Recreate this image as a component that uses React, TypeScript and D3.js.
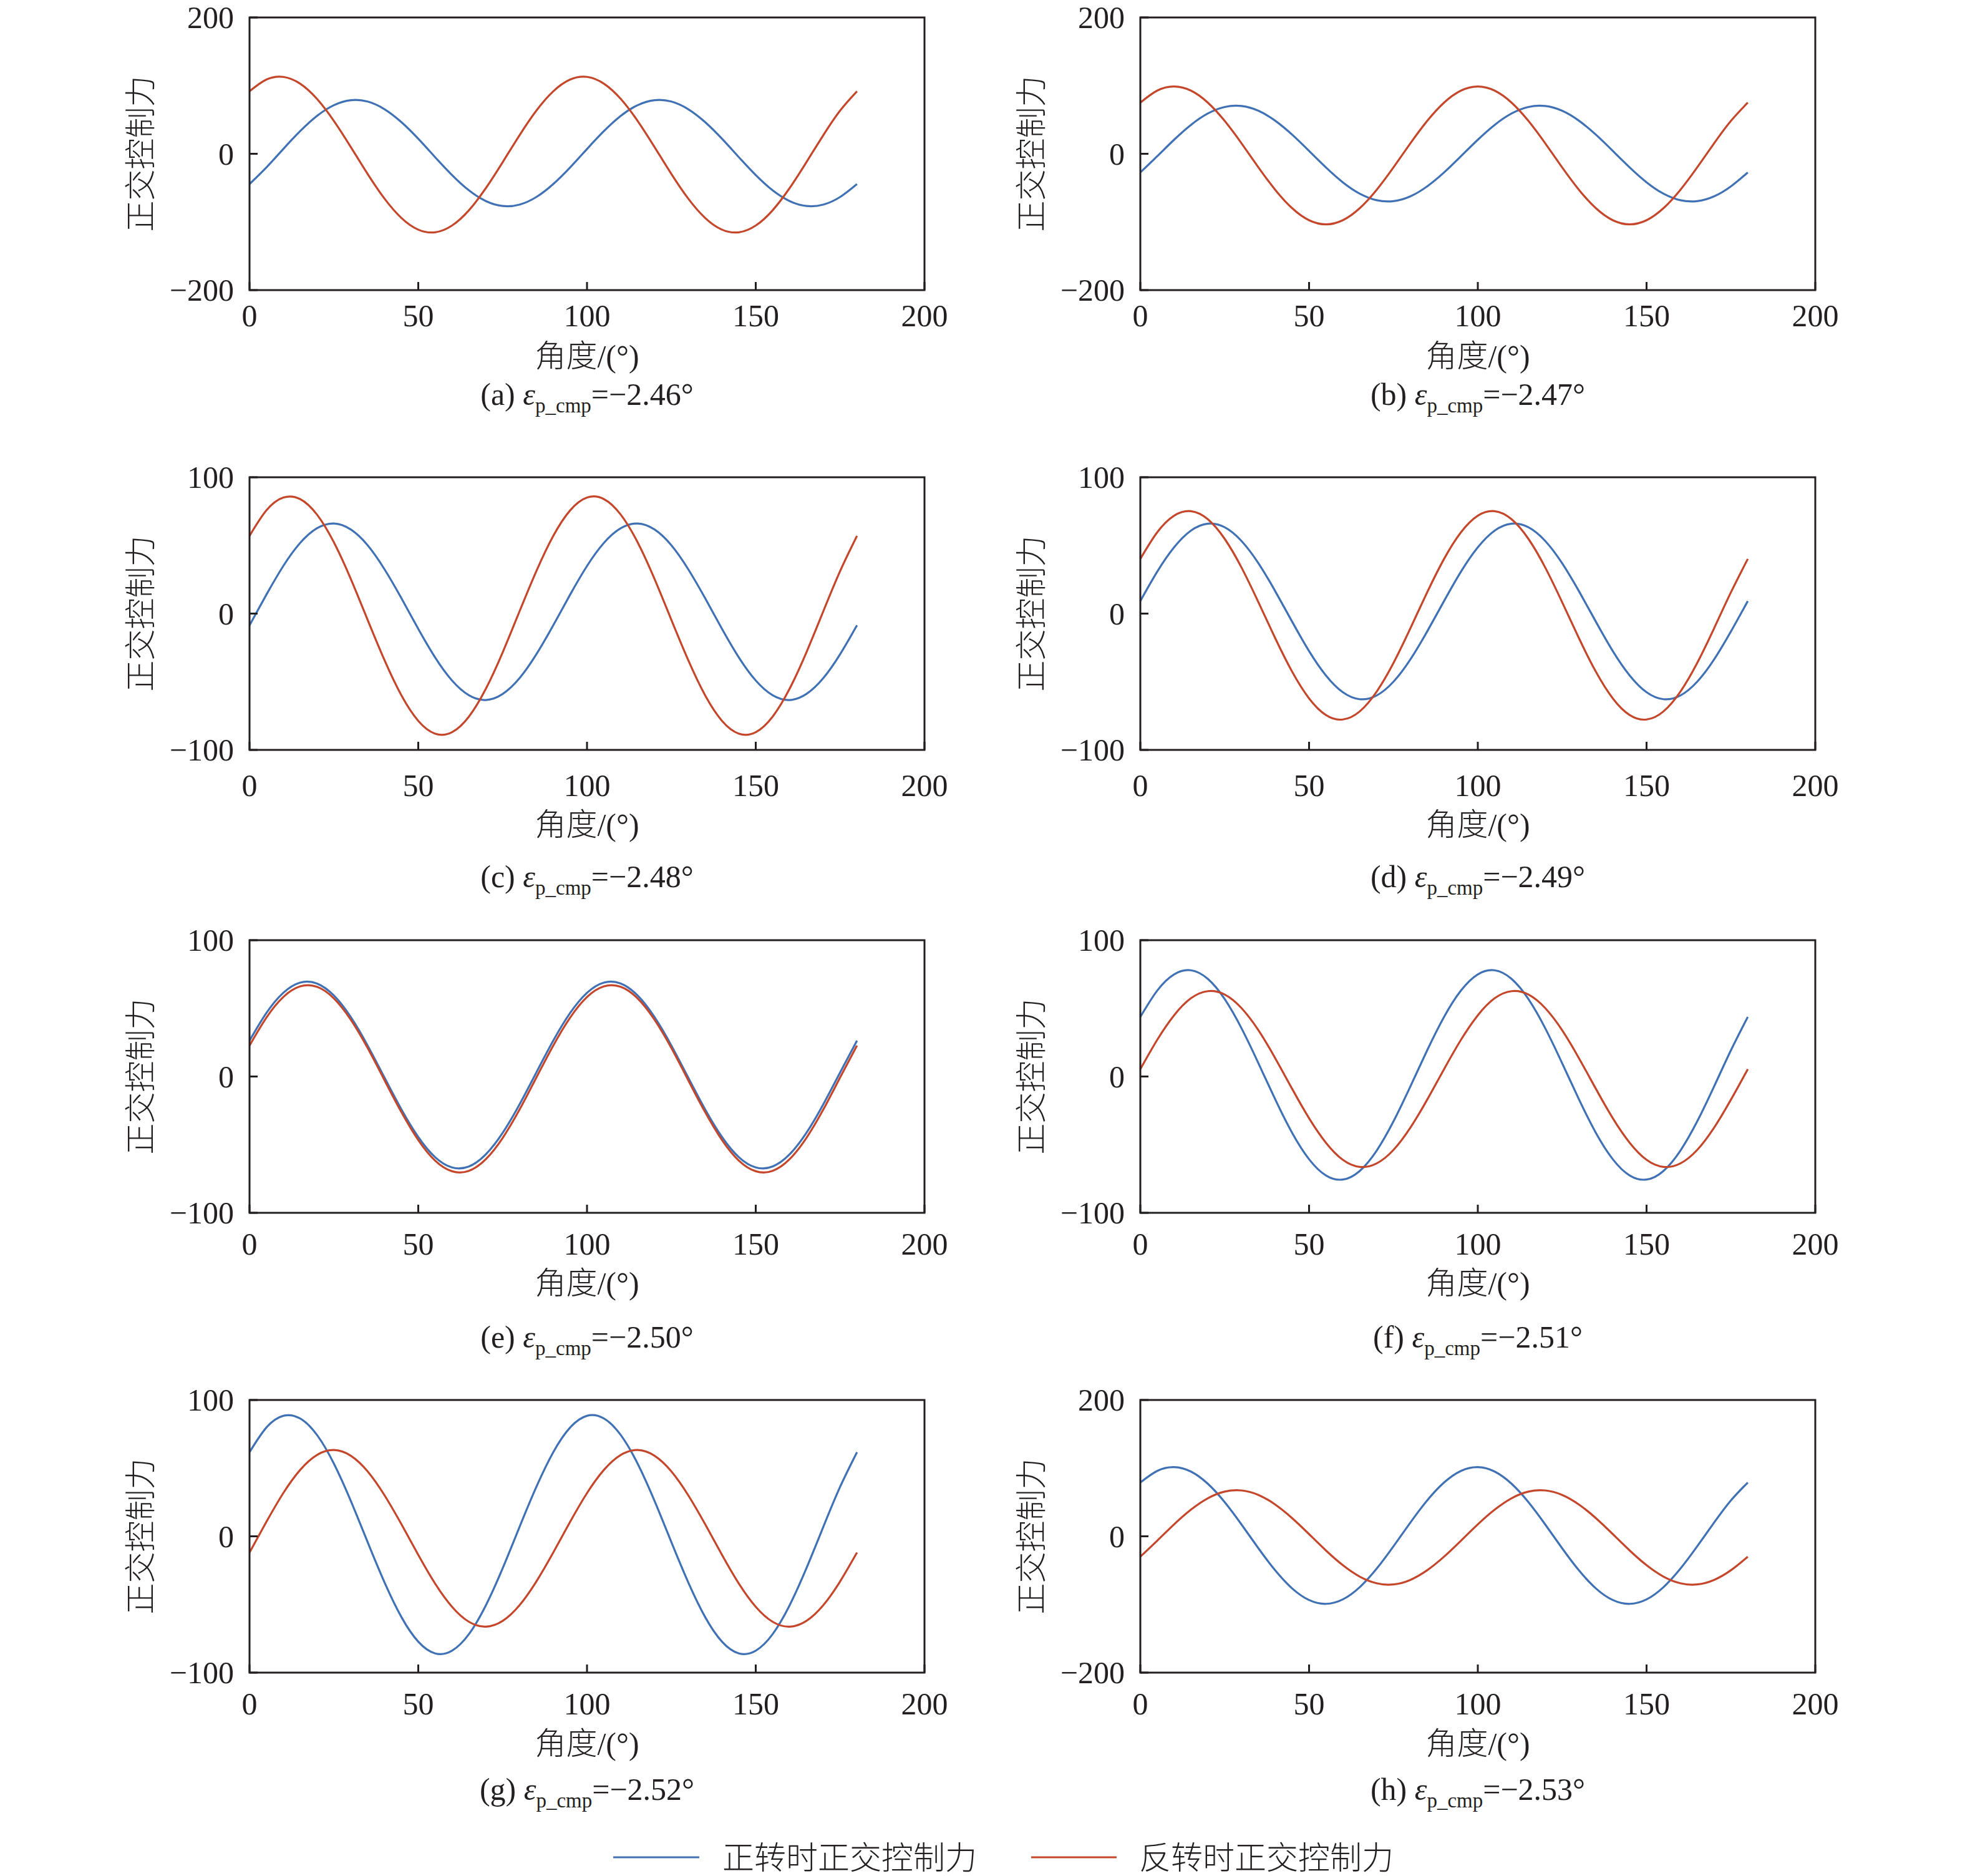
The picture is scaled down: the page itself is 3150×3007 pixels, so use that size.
import React from "react";
import * as d3 from "d3";

// ---------- data ----------
const angles = [0, 5, 10, 15, 20, 25, 30, 35, 40, 45, 50, 55, 60, 65, 70, 75, 80, 85, 90, 95, 100, 105, 110, 115, 120, 125, 130, 135, 140, 145, 150, 155, 160, 165, 170, 175, 180];

// 正转 (forward, blue) and 反转 (reverse, red) orthogonal control force
const forwardA = [-44.4, -20.0, 7.0, 33.2, 55.6, 71.3, 78.6, 76.6, 65.4, 46.4, 22.0, -5.0, -31.2, -53.6, -69.3, -76.6, -74.6, -63.4, -44.4, -20.0, 7.0, 33.2, 55.6, 71.3, 78.6, 76.6, 65.4, 46.4, 22.0, -5.0, -31.2, -53.6, -69.3, -76.6, -74.6, -63.4, -44.4];
const reverseA = [91.7, 108.9, 112.8, 102.9, 80.5, 48.2, 10.0, -29.6, -65.8, -94.1, -111.3, -115.2, -105.3, -82.9, -50.6, -12.4, 27.2, 63.4, 91.7, 108.9, 112.8, 102.9, 80.5, 48.2, 10.0, -29.6, -65.8, -94.1, -111.3, -115.2, -105.3, -82.9, -50.6, -12.4, 27.2, 63.4, 91.7];

const forwardB = [-27.4, -3.6, 20.6, 42.4, 59.1, 68.7, 70.1, 63.1, 48.4, 28.0, 4.2, -20.0, -41.8, -58.5, -68.1, -69.5, -62.5, -47.8, -27.4, -3.6, 20.6, 42.4, 59.1, 68.7, 70.1, 63.1, 48.4, 28.0, 4.2, -20.0, -41.8, -58.5, -68.1, -69.5, -62.5, -47.8, -27.4];
const reverseB = [75.1, 92.7, 98.8, 92.7, 75.1, 48.2, 15.2, -20.0, -53.0, -79.9, -97.5, -103.6, -97.5, -79.9, -53.0, -20.0, 15.2, 48.2, 75.1, 92.7, 98.8, 92.7, 75.1, 48.2, 15.2, -20.0, -53.0, -79.9, -97.5, -103.6, -97.5, -79.9, -53.0, -20.0, 15.2, 48.2, 75.1];

const forwardC = [-8.6, 13.9, 34.9, 51.8, 62.6, 66.1, 61.7, 50.1, 32.5, 11.3, -11.2, -32.2, -49.1, -59.9, -63.4, -59.0, -47.4, -29.8, -8.6, 13.9, 34.9, 51.8, 62.6, 66.1, 61.7, 50.1, 32.5, 11.3, -11.2, -32.2, -49.1, -59.9, -63.4, -59.0, -47.4, -29.8, -8.6];
const reverseC = [57.0, 75.7, 85.1, 84.0, 72.6, 52.3, 25.5, -4.6, -34.2, -60.0, -78.7, -88.1, -87.0, -75.6, -55.3, -28.5, 1.6, 31.2, 57.0, 75.7, 85.1, 84.0, 72.6, 52.3, 25.5, -4.6, -34.2, -60.0, -78.7, -88.1, -87.0, -75.6, -55.3, -28.5, 1.6, 31.2, 57.0];

const forwardD = [9.2, 30.7, 48.6, 60.9, 66.0, 63.3, 53.2, 36.9, 16.3, -6.0, -27.5, -45.4, -57.7, -62.8, -60.1, -50.0, -33.7, -13.1, 9.2, 30.7, 48.6, 60.9, 66.0, 63.3, 53.2, 36.9, 16.3, -6.0, -27.5, -45.4, -57.7, -62.8, -60.1, -50.0, -33.7, -13.1, 9.2];
const reverseD = [40.1, 59.6, 71.8, 75.1, 69.2, 54.8, 33.7, 8.3, -18.2, -42.7, -62.2, -74.4, -77.7, -71.8, -57.4, -36.3, -10.9, 15.6, 40.1, 59.6, 71.8, 75.1, 69.2, 54.8, 33.7, 8.3, -18.2, -42.7, -62.2, -74.4, -77.7, -71.8, -57.4, -36.3, -10.9, 15.6, 40.1];

const forwardE = [26.3, 46.6, 61.4, 68.9, 68.2, 59.4, 43.6, 22.7, -0.8, -24.1, -44.4, -59.2, -66.7, -66.0, -57.2, -41.4, -20.5, 3.0, 26.3, 46.6, 61.4, 68.9, 68.2, 59.4, 43.6, 22.7, -0.8, -24.1, -44.4, -59.2, -66.7, -66.0, -57.2, -41.4, -20.5, 3.0, 26.3];
const reverseE = [22.7, 43.2, 58.3, 66.1, 65.8, 57.3, 41.7, 20.9, -2.7, -26.1, -46.6, -61.7, -69.5, -69.2, -60.7, -45.1, -24.3, -0.7, 22.7, 43.2, 58.3, 66.1, 65.8, 57.3, 41.7, 20.9, -2.7, -26.1, -46.6, -61.7, -69.5, -69.2, -60.7, -45.1, -24.3, -0.7, 22.7];

const forwardF = [43.7, 63.0, 74.9, 77.9, 71.6, 56.8, 35.3, 9.7, -16.9, -41.4, -60.7, -72.6, -75.6, -69.3, -54.5, -33.0, -7.4, 19.2, 43.7, 63.0, 74.9, 77.9, 71.6, 56.8, 35.3, 9.7, -16.9, -41.4, -60.7, -72.6, -75.6, -69.3, -54.5, -33.0, -7.4, 19.2, 43.7];
const reverseF = [5.4, 26.9, 44.9, 57.4, 62.6, 60.1, 50.1, 33.9, 13.3, -9.1, -30.6, -48.6, -61.1, -66.3, -63.8, -53.9, -37.6, -17.0, 5.4, 26.9, 44.9, 57.4, 62.6, 60.1, 50.1, 33.9, 13.3, -9.1, -30.6, -48.6, -61.1, -66.3, -63.8, -53.9, -37.6, -17.0, 5.4];

const forwardG = [61.7, 79.8, 88.4, 86.4, 74.3, 53.3, 26.0, -4.3, -33.8, -59.2, -77.3, -85.9, -83.9, -71.8, -50.8, -23.5, 6.8, 36.3, 61.7, 79.8, 88.4, 86.4, 74.3, 53.3, 26.0, -4.3, -33.8, -59.2, -77.3, -85.9, -83.9, -71.8, -50.8, -23.5, 6.8, 36.3, 61.7];
const reverseG = [-11.9, 10.6, 31.7, 48.7, 59.7, 63.3, 59.1, 47.6, 30.1, 8.9, -13.6, -34.7, -51.7, -62.7, -66.3, -62.1, -50.6, -33.1, -11.9, 10.6, 31.7, 48.7, 59.7, 63.3, 59.1, 47.6, 30.1, 8.9, -13.6, -34.7, -51.7, -62.7, -66.3, -62.1, -50.6, -33.1, -11.9];

const forwardH = [78.9, 95.9, 101.5, 95.0, 77.1, 50.1, 17.2, -17.6, -50.2, -76.5, -93.5, -99.1, -92.6, -74.7, -47.7, -14.8, 20.0, 52.6, 78.9, 95.9, 101.5, 95.0, 77.1, 50.1, 17.2, -17.6, -50.2, -76.5, -93.5, -99.1, -92.6, -74.7, -47.7, -14.8, 20.0, 52.6, 78.9];
const reverseH = [-29.9, -6.5, 17.5, 39.1, 55.8, 65.6, 67.3, 60.7, 46.5, 26.6, 3.2, -20.8, -42.4, -59.1, -68.9, -70.6, -64.0, -49.8, -29.9, -6.5, 17.5, 39.1, 55.8, 65.6, 67.3, 60.7, 46.5, 26.6, 3.2, -20.8, -42.4, -59.1, -68.9, -70.6, -64.0, -49.8, -29.9];

const forwardSeries = [forwardA, forwardB, forwardC, forwardD, forwardE, forwardF, forwardG, forwardH];
const reverseSeries = [reverseA, reverseB, reverseC, reverseD, reverseE, reverseF, reverseG, reverseH];
const panelLetters = ["(a)", "(b)", "(c)", "(d)", "(e)", "(f)", "(g)", "(h)"];
const epsValues = ["2.46", "2.47", "2.48", "2.49", "2.50", "2.51", "2.52", "2.53"];
const yLimits = [200, 200, 100, 100, 100, 100, 100, 200];
const xTicks = [0, 50, 100, 150, 200];
const xDomain = [0, 200];
const yAxisTitle = "正交控制力";
const xAxisTitle = "角度/(°)";
const legendLabels = ["正转时正交控制力", "反转时正交控制力"];

// ---------- styling / layout ----------
const BLUE = "#3f71b4";
const RED = "#c4462b";
const INK = "#231f20";
const FONT = '"Liberation Serif", "Times New Roman", "Noto Sans CJK SC", serif';

const W = 3150;
const H = 3007;
const COL_LEFT = [400, 1828];
const ROW_TOP = [28, 765, 1507, 2244];
const PW = 1082;
const PH = 437;
const YLABEL_X = [224, 1652];
const TICK_OFF = [41, 57, 50, 50];
const TITLE_OFF = [105, 119, 112, 113];
const CAP_OFF = [167, 203, 199, 187];
const TICK_FS = 50;
const LABEL_FS = 50;
const TICK_LEN = 13;
const CJK_WEIGHT = 300;

function Panel({ idx }: { idx: number }) {
  const col = idx % 2;
  const row = Math.floor(idx / 2);
  const left = COL_LEFT[col];
  const top = ROW_TOP[row];
  const bottom = top + PH;
  const lim = yLimits[idx];
  const x = d3.scaleLinear().domain(xDomain).range([left, left + PW]);
  const y = d3.scaleLinear().domain([-lim, lim]).range([bottom, top]);
  const yTicks = [-lim, 0, lim];
  const fmt = d3.format("d");
  const line = d3
    .line<number>()
    .x((_, i) => x(angles[i]))
    .y((d) => y(d))
    .curve(d3.curveNatural);

  return (
    <g>
      {/* curves */}
      <path d={line(forwardSeries[idx]) || ""} fill="none" stroke={BLUE} strokeWidth={3.2} />
      <path d={line(reverseSeries[idx]) || ""} fill="none" stroke={RED} strokeWidth={3.2} />
      {/* frame */}
      <rect x={left} y={top} width={PW} height={PH} fill="none" stroke={INK} strokeWidth={3} />
      {/* y ticks */}
      {yTicks.map((t) => (
        <g key={"y" + t}>
          <line x1={left} x2={left + TICK_LEN} y1={y(t)} y2={y(t)} stroke={INK} strokeWidth={3} />
          <text
            x={left - 25}
            y={y(t) + TICK_FS * 0.34}
            textAnchor="end"
            fontSize={TICK_FS}
            fill={INK}
            fontFamily={FONT}
          >
            {fmt(t)}
          </text>
        </g>
      ))}
      {/* x ticks */}
      {xTicks.map((t) => (
        <g key={"x" + t}>
          <line x1={x(t)} x2={x(t)} y1={bottom} y2={bottom - TICK_LEN} stroke={INK} strokeWidth={3} />
          <text
            x={x(t)}
            y={bottom + TICK_OFF[row] + TICK_FS * 0.34}
            textAnchor="middle"
            fontSize={TICK_FS}
            fill={INK}
            fontFamily={FONT}
          >
            {fmt(t)}
          </text>
        </g>
      ))}
      {/* y axis title */}
      <text
        transform={`translate(${YLABEL_X[col]},${top + PH / 2}) rotate(-90)`}
        y={LABEL_FS * 0.38}
        textAnchor="middle"
        fontSize={LABEL_FS}
        fontWeight={CJK_WEIGHT}
        fill={INK}
        fontFamily={FONT}
      >
        {yAxisTitle}
      </text>
      {/* x axis title */}
      <text
        x={left + PW / 2}
        y={bottom + TITLE_OFF[row] + LABEL_FS * 0.36}
        textAnchor="middle"
        fontSize={LABEL_FS}
        fontWeight={CJK_WEIGHT}
        fill={INK}
        fontFamily={FONT}
      >
        {xAxisTitle}
      </text>
      {/* caption */}
      <text
        x={left + PW / 2}
        y={bottom + CAP_OFF[row] + LABEL_FS * 0.34}
        textAnchor="middle"
        fontSize={LABEL_FS}
        fill={INK}
        fontFamily={FONT}
      >
        {panelLetters[idx] + " "}
        <tspan fontStyle="italic">ε</tspan>
        <tspan fontSize={33} dy={12}>p_cmp</tspan>
        <tspan dy={-12}>{"=−" + epsValues[idx] + "°"}</tspan>
      </text>
    </g>
  );
}

export default function App() {
  const legendY = 2977;
  const legendItems = [
    { color: BLUE, x1: 983, x2: 1121, tx: 1158, label: legendLabels[0] },
    { color: RED, x1: 1653, x2: 1790, tx: 1826, label: legendLabels[1] },
  ];
  return (
    <svg
      width={W}
      height={H}
      viewBox={`0 0 ${W} ${H}`}
      style={{ position: "absolute", left: 0, top: 0, display: "block", background: "#ffffff" }}
    >
      <rect x={0} y={0} width={W} height={H} fill="#ffffff" />
      {forwardSeries.map((_, i) => (
        <Panel key={i} idx={i} />
      ))}
      {legendItems.map((it) => (
        <g key={it.label}>
          <line x1={it.x1} x2={it.x2} y1={legendY} y2={legendY} stroke={it.color} strokeWidth={3.2} />
          <text
            x={it.tx}
            y={legendY + 51 * 0.38}
            fontSize={51}
            fontWeight={CJK_WEIGHT}
            fill={INK}
            fontFamily={FONT}
          >
            {it.label}
          </text>
        </g>
      ))}
    </svg>
  );
}
